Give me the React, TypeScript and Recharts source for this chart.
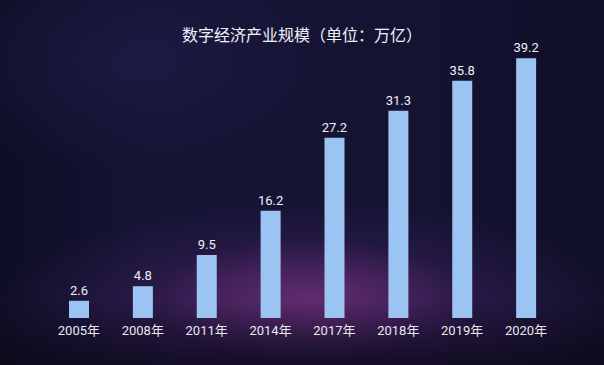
import { BarChart, Bar, XAxis, YAxis, LabelList } from "recharts";

const years = ["2005年", "2008年", "2011年", "2014年", "2017年", "2018年", "2019年", "2020年"];
const scale = [2.6, 4.8, 9.5, 16.2, 27.2, 31.3, 35.8, 39.2];

const data = years.map((year, i) => ({ year, value: scale[i] }));

const font = "Roboto, 'Noto Sans CJK SC', sans-serif";

export default function App() {
    return (
        <div
            style={{
                position: "fixed",
                left: 0,
                top: 0,
                width: 604,
                height: 365,
                overflow: "hidden",
                background:
                    "linear-gradient(180deg, rgba(10,8,22,0) 82%, rgba(10,8,22,0.7) 100%)," +
                    "radial-gradient(ellipse 160px 60px at 310px 300px, rgba(115,50,120,0.7), rgba(90,35,110,0) 100%)," +
                    "radial-gradient(ellipse 320px 120px at 310px 320px, rgba(75,35,105,0.8), rgba(50,28,90,0) 100%)," +
                    "radial-gradient(ellipse 220px 110px at 130px 60px, rgba(32,30,75,0.6), rgba(25,25,65,0) 100%)," +
                    "linear-gradient(90deg, #0f0e26 0%, #151434 25%, #141332 70%, #100f28 100%)",
            }}
        >
            <div
                style={{
                    position: "absolute",
                    top: 23,
                    left: 0,
                    width: 604,
                    textAlign: "center",
                    color: "#f0f0f8",
                    fontFamily: "'Noto Sans CJK SC', sans-serif",
                    fontSize: 16,
                    lineHeight: "22px",
                }}
            >
                数字经济产业规模（单位：万亿）
            </div>
            <BarChart
                width={604}
                height={365}
                data={data}
                margin={{ top: 53, right: 46, left: 47, bottom: 17 }}
                barSize={20}
            >
                <XAxis
                    dataKey="year"
                    axisLine={false}
                    tickLine={false}
                    height={30}
                    tick={{ fontSize: 13, fill: "#e8e8f2", fontFamily: font }}
                />
                <YAxis hide domain={[0, 40]} />
                <Bar dataKey="value" fill="#9cc4f2" isAnimationActive={false}>
                    <LabelList
                        dataKey="value"
                        position="top"
                        offset={6}
                        style={{ fontSize: 13, fill: "#f0f0f8", fontFamily: font }}
                    />
                </Bar>
            </BarChart>
        </div>
    );
}
